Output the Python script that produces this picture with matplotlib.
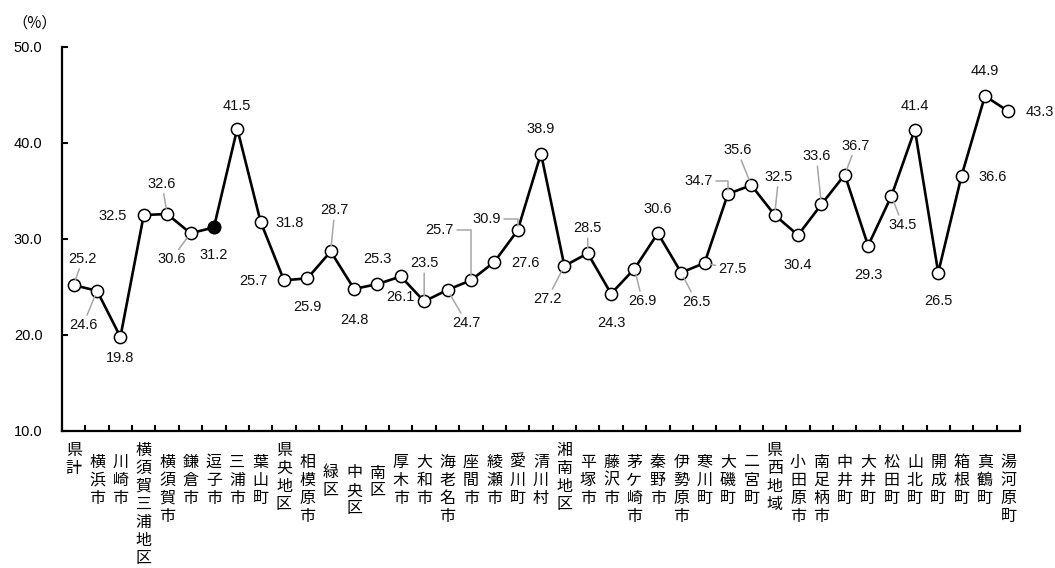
import numpy as np
import matplotlib
matplotlib.use("Agg")
import matplotlib.pyplot as plt

# --- data ---
categories = ["県計", "横浜市", "川崎市", "横須賀三浦地区", "横須賀市", "鎌倉市", "逗子市",
              "三浦市", "葉山町", "県央地区", "相模原市", "緑区", "中央区", "南区",
              "厚木市", "大和市", "海老名市", "座間市", "綾瀬市", "愛川町", "清川村",
              "湘南地区", "平塚市", "藤沢市", "茅ケ崎市", "秦野市", "伊勢原市", "寒川町",
              "大磯町", "二宮町", "県西地域", "小田原市", "南足柄市", "中井町", "大井町",
              "松田町", "山北町", "開成町", "箱根町", "真鶴町", "湯河原町"]
values = [25.2, 24.6, 19.8, 32.5, 32.6, 30.6, 31.2,
          41.5, 31.8, 25.7, 25.9, 28.7, 24.8, 25.3,
          26.1, 23.5, 24.7, 25.7, 27.6, 30.9, 38.9,
          27.2, 28.5, 24.3, 26.9, 30.6, 26.5, 27.5,
          34.7, 35.6, 32.5, 30.4, 33.6, 36.7, 29.3,
          34.5, 41.4, 26.5, 36.6, 44.9, 43.3]
highlight = 6  # 逗子市

# label indent level: 0 = area / total, 1 = city, 2 = ward of 相模原市
levels = [0, 1, 1, 0, 1, 1, 1, 1, 1, 0, 1, 2, 2, 2, 1, 1, 1, 1, 1, 1, 1,
          0, 1, 1, 1, 1, 1, 1, 1, 1, 0, 1, 1, 1, 1, 1, 1, 1, 1, 1, 1]

# value label placement (pixels from point, y down) and leader type
label_offsets = [(9, -27), (-14, 33), (0, 20), (-31, 0), (-5, -31), (-19, 25), (0, 27),
                 (0, -24), (29, 0), (-31, 0), (0, 28), (4, -42), (0, 30), (0, -26),
                 (0, 20), (0, -39), (19, 32), (-31, -51), (31, 0), (-31, -12), (0, -26),
                 (-17, 32), (0, -26), (0, 28), (8, 31), (0, -25), (15, 28), (28, 5),
                 (-29, -14), (-14, -36), (4, -39), (0, 29), (-5, -49), (11, -30), (0, 28),
                 (11, 28), (0, -25), (0, 27), (31, 0), (0, -26), (31, 0)]
leaders = [1, 1, 0, 0, 1, 1, 0,
           0, 0, 0, 0, 1, 0, 0,
           0, 1, 1, 2, 0, 2, 0,
           1, 1, 0, 1, 0, 1, 1,
           2, 1, 1, 0, 1, 1, 0,
           1, 0, 0, 0, 0, 0]

NUM_FONT = ["Liberation Sans", "DejaVu Sans"]
JP_FONT = ["Noto Sans CJK JP", "DejaVu Sans"]
GRAY = "#a6a6a6"

fig = plt.figure(figsize=(10.55, 5.68), dpi=100)
ax = fig.add_axes([62 / 1055, 137 / 568, 958 / 1055, 384 / 568])

x = np.arange(len(values))
ax.plot(x, values, color="black", lw=1.9, zorder=2,
        marker="o", markersize=8.8, markerfacecolor="white",
        markeredgecolor="black", markeredgewidth=1.1)
ax.plot([x[highlight]], [values[highlight]], linestyle="none", marker="o",
        markersize=8.8, markerfacecolor="black", markeredgecolor="black", zorder=3)

# value labels
for i, v in enumerate(values):
    dx, dy = label_offsets[i]
    kw = {}
    if leaders[i] == 1:
        kw["arrowprops"] = dict(arrowstyle="-", color=GRAY, lw=1.1,
                                shrinkA=0, shrinkB=4)
    elif leaders[i] == 2:
        kw["arrowprops"] = dict(arrowstyle="-", color=GRAY, lw=1.1,
                                shrinkA=0, shrinkB=3, relpos=(1, 0.5),
                                connectionstyle="angle,angleA=0,angleB=90,rad=0")
    ax.annotate(f"{v:.1f}", xy=(i, v), xytext=(dx, -dy - 1),
                textcoords="offset pixels", ha="center", va="center",
                fontsize=10.5, family=NUM_FONT, color="#111111", zorder=4, **kw)

# category labels, written vertically one character at a time
first_char = [19, 31, 42]   # px below the axis for each level
pitch = 18
for i, name in enumerate(categories):
    for k, ch in enumerate(name):
        ax.annotate(ch, xy=(i, 0), xycoords=ax.get_xaxis_transform(),
                    xytext=(0, -(first_char[levels[i]] + k * pitch)),
                    textcoords="offset pixels", ha="center", va="center",
                    fontsize=11.5, family=JP_FONT, annotation_clip=False)

ax.set_xlim(-0.5, len(values) - 0.5)
ax.set_ylim(10, 50)
ax.set_xticks(np.arange(len(values) + 1) - 0.5)
ax.set_xticklabels([])
ax.set_yticks(np.arange(10, 51, 10))
ax.set_yticklabels([f"{t:.1f}" for t in np.arange(10, 51, 10)],
                   family=NUM_FONT, fontsize=10.5)
ax.tick_params(axis="x", direction="in", length=4, width=1.5)
ax.tick_params(axis="y", direction="in", length=4, width=1.5, pad=14)
for s in ["top", "right"]:
    ax.spines[s].set_visible(False)
for s in ["left", "bottom"]:
    ax.spines[s].set_linewidth(1.6)

fig.text(12 / 1055, 1 - 23 / 568, "（%）", family=JP_FONT, fontsize=11,
         ha="left", va="center")

fig.savefig("out.png", dpi=100)
